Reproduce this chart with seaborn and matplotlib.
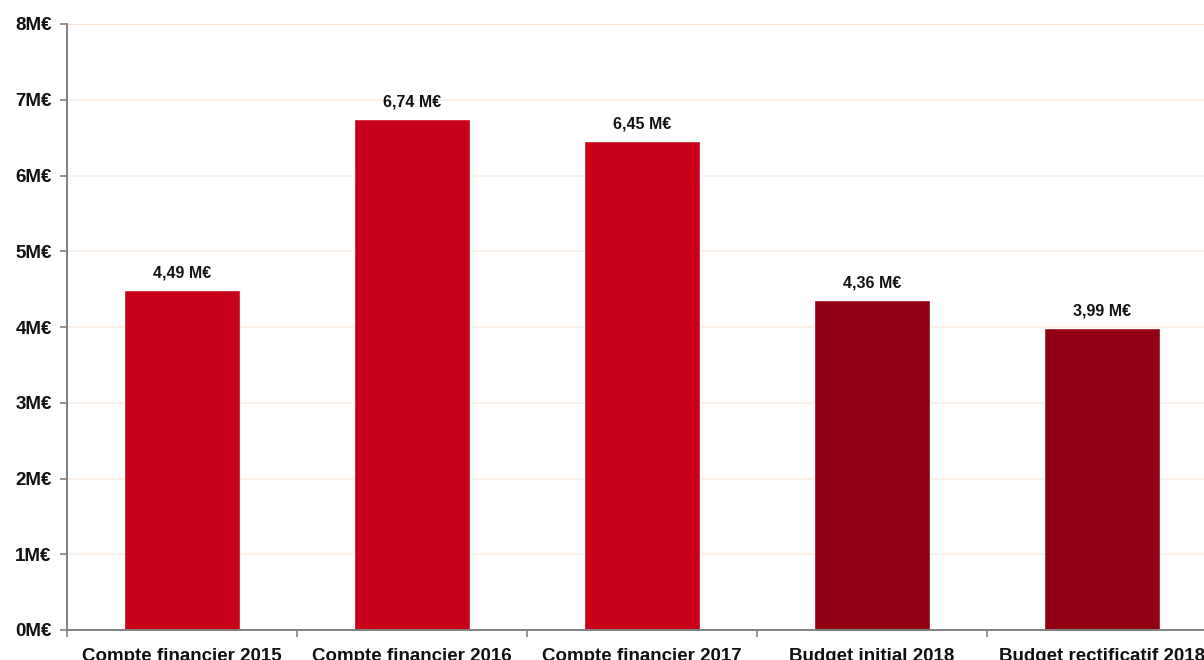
import matplotlib
matplotlib.use("Agg")
import matplotlib.pyplot as plt
import seaborn as sns
import pandas as pd
import numpy as np

categories = ["Compte financier 2015", "Compte financier 2016", "Compte financier 2017",
              "Budget initial 2018", "Budget rectificatif 2018"]
values = [4.49, 6.74, 6.45, 4.36, 3.99]
value_labels = ["4,49 M€", "6,74 M€", "6,45 M€", "4,36 M€", "3,99 M€"]
bar_colors = ["#C80018", "#C80018", "#C80018", "#920014", "#920014"]
y_ticks = [0, 1, 2, 3, 4, 5, 6, 7, 8]
y_tick_labels = ["0M€", "1M€", "2M€", "3M€", "4M€", "5M€", "6M€", "7M€", "8M€"]

sns.set_style("white")
plt.rcParams["font.family"] = ["Liberation Sans", "DejaVu Sans"]

df = pd.DataFrame({"cat": categories, "val": values})

fig = plt.figure(figsize=(12.04, 6.6), dpi=100)
ax = fig.add_axes([67 / 1204, 30 / 660, 1150 / 1204, 606 / 660])

sns.barplot(data=df, x="cat", y="val", hue="cat", palette=bar_colors,
            width=0.505, legend=False, ax=ax, saturation=1)

ax.set_ylim(0, 8)
ax.set_xlim(-0.5, len(categories) - 0.5)
ax.set_yticks(y_ticks)
ax.set_yticklabels(y_tick_labels, fontsize=13.5, fontweight="bold")
for y in y_ticks[1:]:
    ax.axhline(y, color="#FBEFE4" if y < 8 else "#F8DCC8", lw=1.2, zorder=0)

ax.set_xticks(range(len(categories)))
ax.set_xticklabels(categories, fontsize=13.5, fontweight="bold")
ax.tick_params(axis="x", which="major", length=0, pad=13)
ax.set_xticks(np.arange(-0.5, len(categories), 1.0), minor=True)
ax.tick_params(axis="x", which="minor", bottom=True, length=5, color="#808080",
               width=1.2, direction="out")
ax.tick_params(axis="y", left=True, length=5, color="#808080", width=1.2,
               direction="out", pad=6)
ax.set_xlabel("")
ax.set_ylabel("")

for s in ["top", "right"]:
    ax.spines[s].set_visible(False)
for s in ["left", "bottom"]:
    ax.spines[s].set_color("#808080")
    ax.spines[s].set_linewidth(1.4)

for i, (v, lab) in enumerate(zip(values, value_labels)):
    ax.annotate(lab, (i, v), xytext=(0, 7), textcoords="offset points",
                ha="center", va="bottom", fontsize=11.5, fontweight="bold", color="#111111")

for lab in ax.get_yticklabels() + ax.get_xticklabels():
    lab.set_color("#111111")

fig.savefig("out.png", dpi=100)
